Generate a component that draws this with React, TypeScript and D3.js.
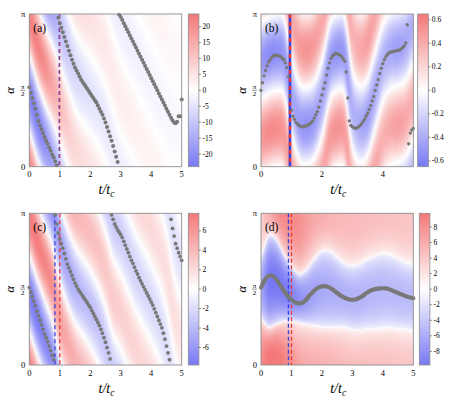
import React, { useMemo } from 'react';
import * as d3 from 'd3';

// ---------- data (α values in units of π) ----------
const T_DOTS = d3.range(101).map(i => +(i * 0.05).toFixed(2));
const T_LINE_D = d3.range(51).map(i => +(i * 0.1).toFixed(1));
const KNOTS = d3.range(21).map(i => i * 0.25);

const DOTS_A = [
  0.52, 0.485, 0.45, 0.415, 0.38, 0.34, 0.30, 0.27, 0.245, 0.22,
  0.195, 0.17, 0.15, 0.125, 0.105, 0.08, 0.06, 0.035, 0.01, 0.975,
  0.94, 0.91, 0.88, 0.85, 0.82, 0.79, 0.76, 0.73, 0.70, 0.675,
  0.65, 0.63, 0.61, 0.59, 0.57, 0.555, 0.54, 0.525, 0.51, 0.495,
  0.48, 0.465, 0.45, 0.435, 0.42, 0.40, 0.38, 0.36, 0.34, 0.315,
  0.29, 0.26, 0.23, 0.20, 0.17, 0.135, 0.10, 0.065, 0.03, 0.995,
  0.98, 0.96, 0.94, 0.92, 0.90, 0.88, 0.86, 0.84, 0.82, 0.80,
  0.78, 0.76, 0.74, 0.72, 0.70, 0.68, 0.66, 0.64, 0.62, 0.60,
  0.58, 0.56, 0.54, 0.52, 0.50, 0.48, 0.46, 0.44, 0.42, 0.40,
  0.38, 0.36, 0.34, 0.32, 0.305, 0.29, 0.285, 0.295, 0.33, 0.33,
  0.44,
];
const PHI_A = [0.47, 0.31, 0.17, 0.05, -0.08, -0.23, -0.37, -0.46, -0.53, -0.61, -0.72, -0.88, -1.04, -1.14, -1.24, -1.34, -1.44, -1.54, -1.64, -1.72, -1.74];
const AMP_A = [22, 22, 20, 16, 12, 9, 7, 6, 5, 4.5, 4, 3.5, 3, 2.8, 2.5, 2.2, 2, 1.8, 1.6, 1.4, 1.2];

const DOTS_B = [
  0.50, 0.55, 0.595, 0.63, 0.66, 0.685, 0.70, 0.715, 0.725, 0.73,
  0.73, 0.73, 0.725, 0.72, 0.71, 0.70, 0.68, 0.65, 0.59, 0.46,
  0.37, 0.33, 0.31, 0.29, 0.28, 0.27, 0.265, 0.262, 0.262, 0.265,
  0.27, 0.275, 0.28, 0.29, 0.30, 0.32, 0.34, 0.36, 0.39, 0.43,
  0.47, 0.51, 0.55, 0.60, 0.645, 0.68, 0.71, 0.725, 0.735, 0.74,
  0.74, 0.735, 0.73, 0.72, 0.705, 0.69, 0.62, 0.45, 0.30, 0.27,
  0.262, 0.255, 0.25, 0.255, 0.26, 0.27, 0.28, 0.295, 0.31, 0.33,
  0.35, 0.375, 0.40, 0.43, 0.46, 0.50, 0.535, 0.57, 0.61, 0.645,
  0.675, 0.70, 0.72, 0.735, 0.745, 0.75, 0.753, 0.755, 0.757, 0.76,
  0.762, 0.765, 0.77, 0.78, 0.79, 0.81, 0.93, 0.15, 0.22, 0.24,
  0.25,
];
const PHI_B = [0.70, 0.73, 0.75, 0.72, 0.47, 0.30, 0.27, 0.31, 0.45, 0.68, 0.75, 0.72, 0.38, 0.28, 0.33, 0.50, 0.68, 0.76, 0.78, 0.82, 0.92];
const AMP_B = [0.5, 0.55, 0.55, 0.5, 0.42, 0.48, 0.52, 0.48, 0.42, 0.48, 0.52, 0.48, 0.38, 0.42, 0.46, 0.42, 0.38, 0.42, 0.46, 0.42, 0.38];

const DOTS_C = [
  0.51, 0.48, 0.45, 0.42, 0.39, 0.355, 0.325, 0.295, 0.265, 0.235,
  0.205, 0.18, 0.155, 0.125, 0.095, 0.065, 0.035, 0.99, 0.93, 0.87,
  0.83, 0.80, 0.77, 0.735, 0.70, 0.665, 0.64, 0.615, 0.59, 0.565,
  0.54, 0.52, 0.50, 0.485, 0.47, 0.455, 0.44, 0.425, 0.41, 0.395,
  0.38, 0.36, 0.34, 0.32, 0.30, 0.28, 0.26, 0.235, 0.21, 0.18,
  0.15, 0.115, 0.08, 0.04, 0.99, 0.96, 0.93, 0.91, 0.89, 0.875,
  0.86, 0.84, 0.815, 0.79, 0.765, 0.74, 0.715, 0.69, 0.67, 0.645,
  0.62, 0.60, 0.575, 0.555, 0.535, 0.515, 0.495, 0.475, 0.455, 0.435,
  0.415, 0.395, 0.37, 0.345, 0.32, 0.295, 0.27, 0.245, 0.21, 0.17,
  0.125, 0.08, 0.035, 0.96, 0.90, 0.85, 0.80, 0.77, 0.74, 0.715,
  0.69,
];
const PHI_C = [0.46, 0.32, 0.18, 0.04, -0.19, -0.35, -0.47, -0.55, -0.63, -0.73, -0.87, -1.05, -1.15, -1.27, -1.39, -1.49, -1.59, -1.71, -1.88, -2.16, -2.32];
const AMP_C = [7.5, 7.5, 7, 6.5, 5.5, 5, 4.5, 4, 3.8, 3.5, 3.2, 3, 2.8, 2.6, 2.5, 2.3, 2.2, 2, 1.9, 1.8, 1.7];

const LINE_D = [
  0.51, 0.55, 0.58, 0.59, 0.585, 0.565, 0.535, 0.505, 0.475, 0.45,
  0.43, 0.415, 0.408, 0.407, 0.415, 0.435, 0.46, 0.48, 0.50, 0.512,
  0.518, 0.52, 0.515, 0.505, 0.49, 0.475, 0.46, 0.448, 0.438, 0.432,
  0.43, 0.432, 0.44, 0.45, 0.465, 0.48, 0.49, 0.497, 0.502, 0.505,
  0.506, 0.505, 0.50, 0.492, 0.483, 0.475, 0.466, 0.458, 0.45, 0.445,
  0.44,
];
const PHI_D = [0.51, 0.55, 0.55, 0.51, 0.47, 0.44, 0.45, 0.48, 0.50, 0.50, 0.48, 0.46, 0.445, 0.45, 0.47, 0.48, 0.49, 0.485, 0.47, 0.455, 0.445];
const HW_D = [0.21, 0.30, 0.28, 0.22, 0.18, 0.16, 0.18, 0.22, 0.25, 0.25, 0.23, 0.21, 0.21, 0.22, 0.23, 0.24, 0.245, 0.24, 0.23, 0.22, 0.22];
const LO_D = [-6.5, -9.5, -9.7, -9.5, -9, -8, -7.2, -6.6, -6.2, -6, -5.8, -5.6, -5.5, -5.4, -5.3, -5.2, -5.1, -5, -5, -4.9, -4.8];
const HI_UP_D = [3.5, 6, 8, 8.5, 8.5, 8, 7, 6.2, 5.8, 5.5, 5.2, 5, 4.9, 4.8, 4.7, 4.6, 4.5, 4.4, 4.3, 4.2, 4.1];
const HI_DN_D = [8.5, 9.7, 9.7, 9, 7.8, 6.8, 6.2, 5.8, 5.5, 5.3, 5.1, 4.9, 4.8, 4.7, 4.6, 4.5, 4.4, 4.3, 4.2, 4.2, 4.1];

const X_TICKS_FULL = [0, 1, 2, 3, 4, 5];
const X_TICKS_EVEN = [0, 2, 4];
const CB_TICKS_A = [-20, -15, -10, -5, 0, 5, 10, 15, 20];
const CB_TICKS_B = [-0.6, -0.4, -0.2, 0, 0.2, 0.4, 0.6];
const CB_TICKS_C = [-6, -4, -2, 0, 2, 4, 6];
const CB_TICKS_D = [-8, -6, -4, -2, 0, 2, 4, 6, 8];
const VMAX_A = 24, VMAX_B = 0.65, VMAX_C = 7.8, VMAX_D = 9.75;

// ---------- style ----------
const RED = '#f47878';
const BLUE = '#7878f4';
const DASH_BLUE = '#3344dd';
const DASH_RED = '#e83c3c';
const DOT = '#787878';
const FRAME = '#8c8c8c';
const FONT = '"Liberation Serif", "DejaVu Serif", serif';

function catmull(knots: number[], vals: number[]) {
  const h = knots[1] - knots[0], n = vals.length;
  return (t: number) => {
    const x = (t - knots[0]) / h;
    let i = Math.floor(x);
    if (i < 0) i = 0;
    if (i > n - 2) i = n - 2;
    const u = Math.min(Math.max(x - i, 0), 1);
    const p0 = vals[Math.max(i - 1, 0)], p1 = vals[i], p2 = vals[i + 1], p3 = vals[Math.min(i + 2, n - 1)];
    return 0.5 * (2 * p1 + (-p0 + p2) * u + (2 * p0 - 5 * p1 + 4 * p2 - p3) * u * u + (-p0 + 3 * p1 - 3 * p2 + p3) * u * u * u);
  };
}

type Box = { x0: number; x1: number; y0: number; y1: number };
type Dash = { t: number; color: string; width: number; dash?: string; offset?: number; opacity?: number };
type Cfg = {
  id: string; label: string; box: Box; cbX: number; vmax: number; cbTicks: number[]; gamma: number; dotR: number;
  xTicks: number[]; phi: number[]; hw?: number[]; lo: number[]; hiUp: number[]; hiDn: number[];
  dots?: number[]; line?: number[]; dashes: Dash[];
};

const txt = (size: number, extra: React.CSSProperties = {}): React.CSSProperties => ({ fontFamily: FONT, fontSize: size, ...extra });

function Panel({ cfg }: { cfg: Cfg }) {
  const { x0, x1, y0, y1 } = cfg.box;
  const xs = d3.scaleLinear().domain([0, 5]).range([x0, x1]);
  const ys = d3.scaleLinear().domain([0, 1]).range([y1, y0]);
  const color = d3.scaleLinear<string>().domain([-cfg.vmax, 0, cfg.vmax]).range([BLUE, '#ffffff', RED]).clamp(true);

  const href = useMemo(() => {
    const S = 2;
    const W = Math.round((x1 - x0) * S), H = Math.round((y1 - y0) * S);
    const canvas = document.createElement('canvas');
    canvas.width = W; canvas.height = H;
    const ctx = canvas.getContext('2d');
    if (!ctx) return '';
    const img = ctx.createImageData(W, H);
    const fPhi = catmull(KNOTS, cfg.phi);
    const fHw = cfg.hw ? catmull(KNOTS, cfg.hw) : () => 0.25;
    const fLo = catmull(KNOTS, cfg.lo);
    const fUp = catmull(KNOTS, cfg.hiUp);
    const fDn = catmull(KNOTS, cfg.hiDn);
    const tS = d3.scaleLinear().domain([0, W]).range([0, 5]);
    const aS = d3.scaleLinear().domain([0, H]).range([1, 0]);
    for (let px = 0; px < W; px++) {
      const t = tS(px + 0.5);
      const phi = fPhi(t), hw = fHw(t), lo = fLo(t), up = fUp(t), dn = fDn(t);
      for (let py = 0; py < H; py++) {
        const a = aS(py + 0.5);
        let delta = a - phi;
        delta = delta - Math.round(delta);
        const d = Math.abs(delta);
        const s = d < hw ? (d / hw) * 0.25 : 0.25 + ((d - hw) / (0.5 - hw)) * 0.25;
        const c = Math.cos(2 * Math.PI * s);
        const m = Math.pow(Math.abs(c), cfg.gamma);
        const v = c >= 0 ? lo * m : m * (a > phi ? up : dn);
        const col = d3.rgb(color(v));
        const k = (py * W + px) * 4;
        img.data[k] = col.r; img.data[k + 1] = col.g; img.data[k + 2] = col.b; img.data[k + 3] = 255;
      }
    }
    ctx.putImageData(img, 0, 0);
    return canvas.toDataURL();
  }, [cfg]);

  const cbW = 10.6;
  const cys = d3.scaleLinear().domain([-cfg.vmax, cfg.vmax]).range([y1, y0]);
  const gid = `grad-${cfg.id}`;
  const midY = ys(0.5);
  const lineGen = d3.line<number>().x((_, i) => xs(T_LINE_D[i])).y(v => ys(v)).curve(d3.curveCatmullRom);

  return (
    <g>
      <defs>
        <linearGradient id={gid} x1="0" y1="1" x2="0" y2="0">
          <stop offset="0" stopColor={BLUE} />
          <stop offset="0.5" stopColor="#ffffff" />
          <stop offset="1" stopColor={RED} />
        </linearGradient>
      </defs>
      <image href={href} x={x0} y={y0} width={x1 - x0} height={y1 - y0} preserveAspectRatio="none" />
      {cfg.dashes.map((dd, i) => (
        <line key={i} x1={xs(dd.t)} x2={xs(dd.t)} y1={y0} y2={y1} stroke={dd.color} strokeWidth={dd.width}
          strokeDasharray={dd.dash} strokeDashoffset={dd.offset || 0} opacity={dd.opacity ?? 1} />
      ))}
      {cfg.dots && cfg.dots.map((v, i) => (
        <circle key={i} cx={xs(T_DOTS[i])} cy={ys(v)} r={cfg.dotR} fill={DOT} />
      ))}
      {cfg.line && <path d={lineGen(cfg.line) || ''} fill="none" stroke={DOT} strokeWidth={4.2} strokeLinecap="round" />}
      <rect x={x0} y={y0} width={x1 - x0} height={y1 - y0} fill="none" stroke={FRAME} strokeWidth={0.9} />
      <text x={x0 + 4} y={y0 + 18} style={txt(11.5)}>{cfg.label}</text>

      {/* y ticks */}
      <text x={x0 - 4} y={ys(0) + 3} style={txt(8.5)} textAnchor="end">0</text>
      <text x={x0 - 4} y={ys(1) + 3} style={txt(8.5)} textAnchor="end">π</text>
      <text x={x0 - 6.5} y={midY - 1.2} style={txt(7)} textAnchor="middle">π</text>
      <line x1={x0 - 9} x2={x0 - 4} y1={midY} y2={midY} stroke="#222" strokeWidth={0.5} />
      <text x={x0 - 6.5} y={midY + 6} style={txt(7)} textAnchor="middle">2</text>
      <text transform={`translate(${x0 - 15},${midY}) rotate(-90)`} style={txt(12.5, { fontStyle: 'italic' })} textAnchor="middle">α</text>

      {/* x ticks */}
      {cfg.xTicks.map(v => (
        <text key={v} x={xs(v)} y={y1 + 10.5} style={txt(8.5)} textAnchor="middle">{v}</text>
      ))}
      <text x={(x0 + x1) / 2 + 1} y={y1 + 27.5} style={txt(14, { fontStyle: 'italic' })} textAnchor="middle">
        t/t<tspan dy={3} style={{ fontSize: 9.5 }}>c</tspan>
      </text>

      {/* colorbar */}
      <rect x={cfg.cbX} y={y0} width={cbW} height={y1 - y0} fill={`url(#${gid})`} stroke={FRAME} strokeWidth={0.8} />
      {cfg.cbTicks.map(v => (
        <g key={v}>
          <line x1={cfg.cbX + cbW} x2={cfg.cbX + cbW + 2} y1={cys(v)} y2={cys(v)} stroke="#444" strokeWidth={0.6} />
          <text x={cfg.cbX + cbW + 3.5} y={cys(v) + 2.6} style={txt(7.5)}>{String(v)}</text>
        </g>
      ))}
    </g>
  );
}

const PANELS: Cfg[] = [
  {
    id: 'a', label: '(a)', box: { x0: 29.3, x1: 181.7, y0: 14, y1: 166.7 }, cbX: 188.3, vmax: VMAX_A, cbTicks: CB_TICKS_A, gamma: 0.9, dotR: 2,
    xTicks: X_TICKS_FULL, phi: PHI_A, lo: AMP_A.map(v => -v), hiUp: AMP_A, hiDn: AMP_A, dots: DOTS_A,
    dashes: [
      { t: 0.985, color: DASH_BLUE, width: 1.4, dash: '4 3' },
      { t: 1.0, color: DASH_RED, width: 1.2, dash: '4 3', opacity: 0.7 },
    ],
  },
  {
    id: 'b', label: '(b)', box: { x0: 261, x1: 413.3, y0: 14, y1: 166.7 }, cbX: 417.7, vmax: VMAX_B, cbTicks: CB_TICKS_B, gamma: 1, dotR: 1.7,
    xTicks: X_TICKS_EVEN, phi: PHI_B, lo: AMP_B.map(v => -v), hiUp: AMP_B, hiDn: AMP_B, dots: DOTS_B,
    dashes: [
      { t: 0.95, color: DASH_BLUE, width: 2.6 },
      { t: 0.95, color: DASH_RED, width: 2.6, dash: '4 4' },
    ],
  },
  {
    id: 'c', label: '(c)', box: { x0: 29.3, x1: 181.7, y0: 213.3, y1: 365 }, cbX: 188.3, vmax: VMAX_C, cbTicks: CB_TICKS_C, gamma: 0.9, dotR: 1.9,
    xTicks: X_TICKS_FULL, phi: PHI_C, lo: AMP_C.map(v => -v), hiUp: AMP_C, hiDn: AMP_C, dots: DOTS_C,
    dashes: [
      { t: 0.84, color: DASH_BLUE, width: 1.3, dash: '4 3' },
      { t: 1.0, color: DASH_RED, width: 1.3, dash: '4 3' },
    ],
  },
  {
    id: 'd', label: '(d)', box: { x0: 261, x1: 413.3, y0: 213.3, y1: 365 }, cbX: 419.3, vmax: VMAX_D, cbTicks: CB_TICKS_D, gamma: 0.55, dotR: 2,
    xTicks: X_TICKS_FULL, phi: PHI_D, hw: HW_D, lo: LO_D, hiUp: HI_UP_D, hiDn: HI_DN_D, line: LINE_D,
    dashes: [
      { t: 0.9, color: DASH_BLUE, width: 1.3, dash: '4 2.5' },
      { t: 1.0, color: DASH_RED, width: 1.3, dash: '4 2.5' },
    ],
  },
];

export default function App() {
  return (
    <svg width={463} height={397} viewBox="0 0 463 397"
      style={{ position: 'absolute', left: 0, top: 0, background: '#ffffff' }}>
      <rect x={0} y={0} width={463} height={397} fill="#ffffff" />
      {PANELS.map(p => <Panel key={p.id} cfg={p} />)}
    </svg>
  );
}
